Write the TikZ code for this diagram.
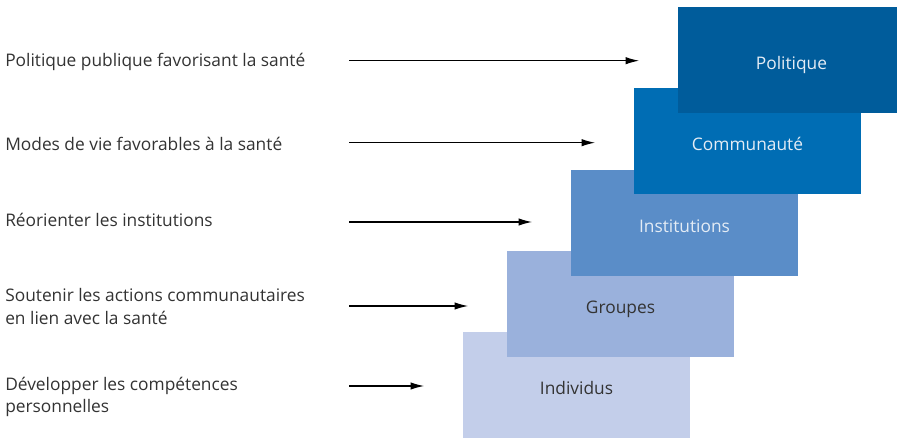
\documentclass[tikz,border=0pt]{standalone}
\usepackage{fontspec}
\setmainfont{Open Sans}
\usepackage{xcolor}
\definecolor{politiquecolor}{HTML}{005C9B}
\definecolor{communautecolor}{HTML}{006DB4}
\definecolor{institutionscolor}{HTML}{5A8DC8}
\definecolor{groupescolor}{HTML}{9AB1DC}
\definecolor{individuscolor}{HTML}{C3CEEA}
\definecolor{lighttext}{HTML}{E4ECF5}
\definecolor{darktext}{HTML}{333333}
\usetikzlibrary{positioning,arrows.meta}
\tikzset{
    level/.style={
        rectangle,
        minimum width=170.25pt,
        minimum height=79.25pt,
        inner sep=0pt,
        text height=14pt,
        text depth=0pt,
        align=center,
        font=\fontsize{13}{15}\selectfont,
    },
    darklevel/.style={
        level,
        text=lighttext,
    },
    lightlevel/.style={
        level,
        text=darktext,
    },
    action/.style={
        anchor=west,
        inner sep=0pt,
        align=left,
        text=darktext,
        font=\fontsize{13}{17}\selectfont,
    },
    arrow/.style={
        -{Latex[length=10pt,width=5.5pt]},
        line width=0.9pt,
        black,
        shorten >=29pt,
    },
}

\begin{document}
\begin{tikzpicture}[x=0.75pt,y=-0.75pt]
        \clip (0,0) rectangle (897,438);

        % levels, from the bottom one up
        \node[lightlevel, fill=individuscolor] (ind) at (576.5,385) {Individus};
        \node[lightlevel, fill=groupescolor] (grp) at (620.5,304) {Groupes};
        \node[darklevel, fill=institutionscolor] (inst) at (684.5,223) {Institutions};
        \node[darklevel, fill=communautecolor] (com) at (747.5,141) {Communauté};
        \node[darklevel, fill=politiquecolor] (pol) at (791.5,60) {Politique};

        % actions
        \node[action] (a1) at (5,61.5) {Politique publique favorisant la santé};
        \node[action] (a2) at (5,143.5) {Modes de vie favorables à la santé};
        \node[action] (a3) at (5,219.5) {Réorienter les institutions};
        \node[action] (a4) at (5,306.5) {Soutenir les actions communautaires\\en lien avec la santé};
        \node[action] (a5) at (5,397) {Développer les compétences\\personnelles};

        \coordinate (s1) at (349,60.7);
        \coordinate (s2) at (349,142.7);
        \coordinate (s3) at (349,222);
        \coordinate (s4) at (349,306);
        \coordinate (s5) at (349,386);

        \draw[arrow] (s1) -- (s1 -| pol.west);
        \draw[arrow] (s2) -- (s2 -| com.west);
        \draw[arrow] (s3) -- (s3 -| inst.west);
        \draw[arrow] (s4) -- (s4 -| grp.west);
        \draw[arrow] (s5) -- (s5 -| ind.west);
    \end{tikzpicture}
\end{document}
